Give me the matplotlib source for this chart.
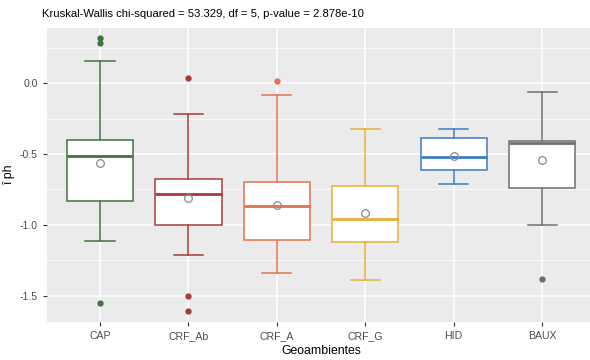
import matplotlib.pyplot as plt

plt.rcParams['font.family'] = ['Liberation Sans', 'DejaVu Sans']

groups = ["CAP", "CRF_Ab", "CRF_A", "CRF_G", "HID", "BAUX"]
colors = ["#3f7440", "#a83a3a", "#e0734f", "#e8ae35", "#3d7dbf", "#6e6e6e"]

q1 = [-0.831, -0.998, -1.104, -1.123, -0.615, -0.739]
medians = [-0.513, -0.782, -0.867, -0.961, -0.520, -0.419]
q3 = [-0.403, -0.674, -0.695, -0.723, -0.386, -0.405]
whisk_lo = [-1.112, -1.210, -1.340, -1.389, -0.711, -0.998]
whisk_hi = [0.157, -0.215, -0.083, -0.323, -0.323, -0.064]
means = [-0.561, -0.810, -0.860, -0.914, -0.516, -0.542]
outliers = [[0.318, 0.287, -1.549], [0.037, -1.500, -1.608], [0.016], [], [], [-1.380]]

fig = plt.figure(figsize=(5.9, 3.6), dpi=100)
ax = fig.add_axes([0.0797, 0.1056, 0.929, 0.8167])
ax.set_facecolor("#EBEBEB")

for i, g in enumerate(groups):
    c = colors[i]
    stats = [{"label": g, "q1": q1[i], "med": medians[i], "q3": q3[i],
              "whislo": whisk_lo[i], "whishi": whisk_hi[i],
              "mean": means[i], "fliers": outliers[i]}]
    ax.bxp(stats, positions=[i + 1], widths=0.75, capwidths=0.33,
           patch_artist=True, showmeans=True, manage_ticks=False,
           boxprops=dict(facecolor="white", edgecolor=c, linewidth=1.1),
           medianprops=dict(color=c, linewidth=2.0),
           whiskerprops=dict(color=c, linewidth=1.1),
           capprops=dict(color=c, linewidth=1.1),
           flierprops=dict(marker="o", markerfacecolor=c, markeredgecolor=c,
                           markersize=3.5),
           meanprops=dict(marker="o", markerfacecolor="none",
                          markeredgecolor="#8a8a8a", markersize=5.5,
                          markeredgewidth=0.9),
           zorder=3)

ax.set_xlim(0.4, 6.6)
ax.set_ylim(-1.686, 0.39)
ax.set_xticks(range(1, len(groups) + 1))
ax.set_xticklabels(groups)
ax.set_yticks([0.0, -0.5, -1.0, -1.5])
ax.set_yticklabels(["0.0", "-0.5", "-1.0", "-1.5"])
ax.set_yticks([0.25, -0.25, -0.75, -1.25], minor=True)

ax.grid(which="major", color="white", linewidth=1.1, zorder=0)
ax.grid(which="minor", axis="y", color="white", linewidth=0.5, zorder=0)
ax.set_axisbelow(True)
for s in ax.spines.values():
    s.set_visible(False)
ax.tick_params(which="major", colors="#333333", labelcolor="#4D4D4D",
               labelsize=7.6, length=3, width=0.8)
ax.tick_params(which="minor", length=0)

ax.set_xlabel("Geoambientes", fontsize=8.8, labelpad=3)
ax.set_ylabel("î ph", fontsize=8.8, labelpad=3)
fig.text(0.071, 0.975, "Kruskal-Wallis chi-squared = 53.329, df = 5, p-value = 2.878e-10",
         fontsize=8.1, ha="left", va="top")

fig.savefig("out.png", dpi=100)
